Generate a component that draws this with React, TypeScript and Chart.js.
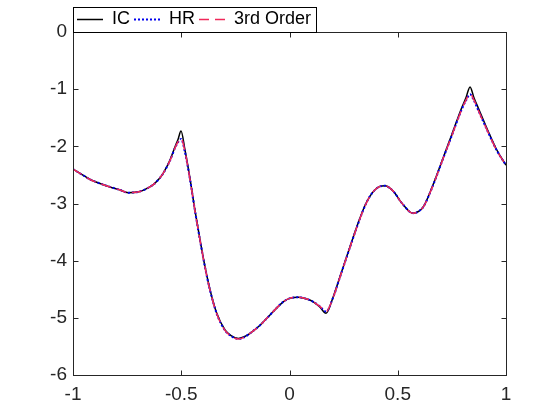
import React, { useEffect, useRef } from 'react';
import { Chart, registerables } from 'chart.js';

Chart.register(...registerables);

const xValues = [
  -1.0, -0.96, -0.921, -0.875, -0.829, -0.785, -0.745, -0.691, -0.655, -0.629,
  -0.6, -0.583, -0.552, -0.529, -0.515, -0.501, -0.483, -0.46, -0.437, -0.413,
  -0.39, -0.367, -0.336, -0.298, -0.27, -0.236, -0.21, -0.182, -0.136, -0.09,
  -0.06, -0.029, 0.0, 0.041, 0.08, 0.11, 0.14, 0.169, 0.202, 0.233,
  0.279, 0.322, 0.349, 0.372, 0.395, 0.418, 0.441, 0.464, 0.487, 0.51,
  0.534, 0.553, 0.572, 0.595, 0.618, 0.657, 0.703, 0.749, 0.795, 0.815,
  0.834, 0.852, 0.872, 0.918, 0.957, 1.0,
];

const icValues = [
  -2.40, -2.49, -2.58, -2.65, -2.71, -2.76, -2.81, -2.79, -2.73, -2.67,
  -2.56, -2.47, -2.24, -2.01, -1.88, -1.73, -2.06, -2.55, -3.11, -3.64,
  -4.11, -4.51, -4.92, -5.21, -5.31, -5.36, -5.33, -5.27, -5.13, -4.95,
  -4.83, -4.72, -4.66, -4.64, -4.67, -4.72, -4.81, -4.92, -4.63, -4.28,
  -3.76, -3.29, -3.03, -2.87, -2.76, -2.70, -2.69, -2.73, -2.82, -2.95,
  -3.06, -3.14, -3.17, -3.14, -3.06, -2.73, -2.27, -1.80, -1.33, -1.15,
  -0.96, -1.15, -1.33, -1.74, -2.06, -2.33,
];

const hrValues = [
  -2.40, -2.49, -2.58, -2.65, -2.71, -2.76, -2.81, -2.79, -2.73, -2.67,
  -2.56, -2.47, -2.25, -2.03, -1.93, -1.87, -2.10, -2.57, -3.12, -3.65,
  -4.12, -4.52, -4.93, -5.22, -5.32, -5.37, -5.34, -5.27, -5.13, -4.95,
  -4.83, -4.72, -4.66, -4.64, -4.67, -4.72, -4.80, -4.89, -4.64, -4.29,
  -3.77, -3.30, -3.04, -2.87, -2.76, -2.70, -2.69, -2.73, -2.82, -2.95,
  -3.06, -3.14, -3.17, -3.14, -3.06, -2.74, -2.28, -1.82, -1.36, -1.20,
  -1.09, -1.20, -1.37, -1.76, -2.07, -2.33,
];

const thirdOrderValues = [
  -2.40, -2.49, -2.58, -2.65, -2.71, -2.76, -2.81, -2.79, -2.73, -2.67,
  -2.56, -2.47, -2.25, -2.03, -1.92, -1.86, -2.09, -2.57, -3.12, -3.65,
  -4.12, -4.52, -4.93, -5.22, -5.32, -5.37, -5.34, -5.27, -5.13, -4.95,
  -4.83, -4.72, -4.66, -4.64, -4.67, -4.72, -4.80, -4.89, -4.64, -4.29,
  -3.77, -3.30, -3.04, -2.87, -2.76, -2.70, -2.69, -2.73, -2.82, -2.95,
  -3.06, -3.14, -3.17, -3.14, -3.06, -2.74, -2.28, -1.82, -1.36, -1.19,
  -1.08, -1.19, -1.37, -1.76, -2.07, -2.33,
];

const seriesLabels = ['IC', 'HR', '3rd Order'];
const xTickValues = [-1, -0.5, 0, 0.5, 1];
const xTickLabels = ['-1', '-0.5', '0', '0.5', '1'];
const yTickValues = [-6, -5, -4, -3, -2, -1, 0];
const yTickLabels = ['-6', '-5', '-4', '-3', '-2', '-1', '0'];

const FONT = '"Liberation Sans", Arial, Helvetica, sans-serif';
const AXIS_COLOR = '#262626';
const LEGEND_PAD = 4;
const LEGEND_FONT = 18;

const toPoints = (ys: number[]) => xValues.map((x, i) => ({ x, y: ys[i] }));

const matlabPlugin = {
  id: 'matlabAxes',
  afterLayout(chart: any) {
    const lg = chart.legend;
    if (!lg) return;
    const w = lg.width;
    const h = lg.height;
    const ca = chart.chartArea;
    lg.left = ca.left;
    lg.right = lg.left + w;
    lg.top = ca.top - 12.5 - LEGEND_PAD - LEGEND_FONT / 2;
    lg.bottom = lg.top + h;
  },
  afterDraw(chart: any) {
    const ctx = chart.ctx;
    const ca = chart.chartArea;
    const xs = chart.scales.x;
    const ys = chart.scales.y;
    const L = Math.round(ca.left) + 0.5;
    const R = Math.round(ca.right) + 0.5;
    const T = Math.round(ca.top) + 0.5;
    const B = Math.round(ca.bottom) + 0.5;
    ctx.save();
    ctx.strokeStyle = AXIS_COLOR;
    ctx.lineWidth = 1;
    ctx.setLineDash([]);
    ctx.strokeRect(L, T, R - L, B - T);
    const tl = 5;
    ctx.beginPath();
    for (const v of xTickValues) {
      const px = Math.round(xs.getPixelForValue(v)) + 0.5;
      ctx.moveTo(px, B); ctx.lineTo(px, B - tl);
      ctx.moveTo(px, T); ctx.lineTo(px, T + tl);
    }
    for (const v of yTickValues) {
      const py = Math.round(ys.getPixelForValue(v)) + 0.5;
      ctx.moveTo(L, py); ctx.lineTo(L + tl, py);
      ctx.moveTo(R, py); ctx.lineTo(R - tl, py);
    }
    ctx.stroke();
    const lg = chart.legend;
    if (lg && lg.lineWidths) {
      const right = Math.round(lg.left + lg.lineWidths[0] + 5) + 0.5;
      ctx.strokeStyle = '#000000';
      ctx.strokeRect(L, T - 25, right - L, 25);
    }
    ctx.restore();
  },
};

export default function App() {
  const canvasRef = useRef<HTMLCanvasElement | null>(null);

  useEffect(() => {
    document.body.style.margin = '0';
    const canvas = canvasRef.current;
    if (!canvas) return;
    const chart = new Chart(canvas, {
      type: 'line',
      data: {
        datasets: [
          {
            label: seriesLabels[0],
            data: toPoints(icValues),
            borderColor: '#000000',
            backgroundColor: '#000000',
            borderWidth: 1.5,
            borderDash: [],
            pointRadius: 0,
            cubicInterpolationMode: 'monotone',
            order: 3,
          },
          {
            label: seriesLabels[1],
            data: toPoints(hrValues),
            borderColor: '#0000ee',
            backgroundColor: '#0000ee',
            borderWidth: 2,
            borderDash: [2, 2],
            pointRadius: 0,
            cubicInterpolationMode: 'monotone',
            order: 2,
          },
          {
            label: seriesLabels[2],
            data: toPoints(thirdOrderValues),
            borderColor: '#f0285a',
            backgroundColor: '#f0285a',
            borderWidth: 1.5,
            borderDash: [10, 6],
            pointRadius: 0,
            cubicInterpolationMode: 'monotone',
            order: 1,
          },
        ],
      },
      options: {
        responsive: false,
        animation: false,
        devicePixelRatio: 1,
        layout: { padding: { left: 0, right: 54, top: 0, bottom: 0 } },
        plugins: {
          tooltip: { enabled: false },
          legend: {
            display: true,
            position: 'top',
            align: 'start',
            labels: {
              usePointStyle: true,
              pointStyle: 'line',
              pointStyleWidth: 26,
              boxWidth: 26,
              boxHeight: LEGEND_FONT,
              padding: LEGEND_PAD,
              color: '#000000',
              font: { family: FONT, size: LEGEND_FONT },
              sort: (a: any, b: any) => a.datasetIndex - b.datasetIndex,
              generateLabels: (ch: any) => {
                const items = Chart.defaults.plugins.legend.labels.generateLabels(ch);
                return items.map((it: any) => {
                  const ds: any = ch.data.datasets[it.datasetIndex];
                  return {
                    ...it,
                    pointStyle: 'line',
                    lineDash: ds.borderDash || [],
                    lineWidth: ds.borderWidth,
                    strokeStyle: ds.borderColor,
                    fillStyle: ds.borderColor,
                  };
                });
              },
            },
          },
        },
        scales: {
          x: {
            type: 'linear',
            min: -1,
            max: 1,
            grid: { display: false, drawTicks: false },
            border: { display: false },
            afterBuildTicks: (scale: any) => {
              scale.ticks = xTickValues.map((v) => ({ value: v }));
            },
            afterFit: (scale: any) => {
              scale.height = 45;
            },
            ticks: {
              padding: 8,
              color: AXIS_COLOR,
              font: { family: FONT, size: 19 },
              maxRotation: 0,
              autoSkip: false,
              callback: (v: any) => xTickLabels[xTickValues.indexOf(Number(v))],
            },
          },
          y: {
            type: 'linear',
            min: -6,
            max: 0,
            grid: { display: false, drawTicks: false },
            border: { display: false },
            afterBuildTicks: (scale: any) => {
              scale.ticks = yTickValues.map((v) => ({ value: v }));
            },
            afterFit: (scale: any) => {
              scale.width = 73;
            },
            ticks: {
              padding: 6,
              color: AXIS_COLOR,
              font: { family: FONT, size: 19 },
              autoSkip: false,
              callback: (v: any) => yTickLabels[yTickValues.indexOf(Number(v))],
            },
          },
        },
      },
      plugins: [matlabPlugin],
    });
    return () => chart.destroy();
  }, []);

  return (
    <div style={{ width: 560, height: 420 }}>
      <canvas ref={canvasRef} width={560} height={420} />
    </div>
  );
}
